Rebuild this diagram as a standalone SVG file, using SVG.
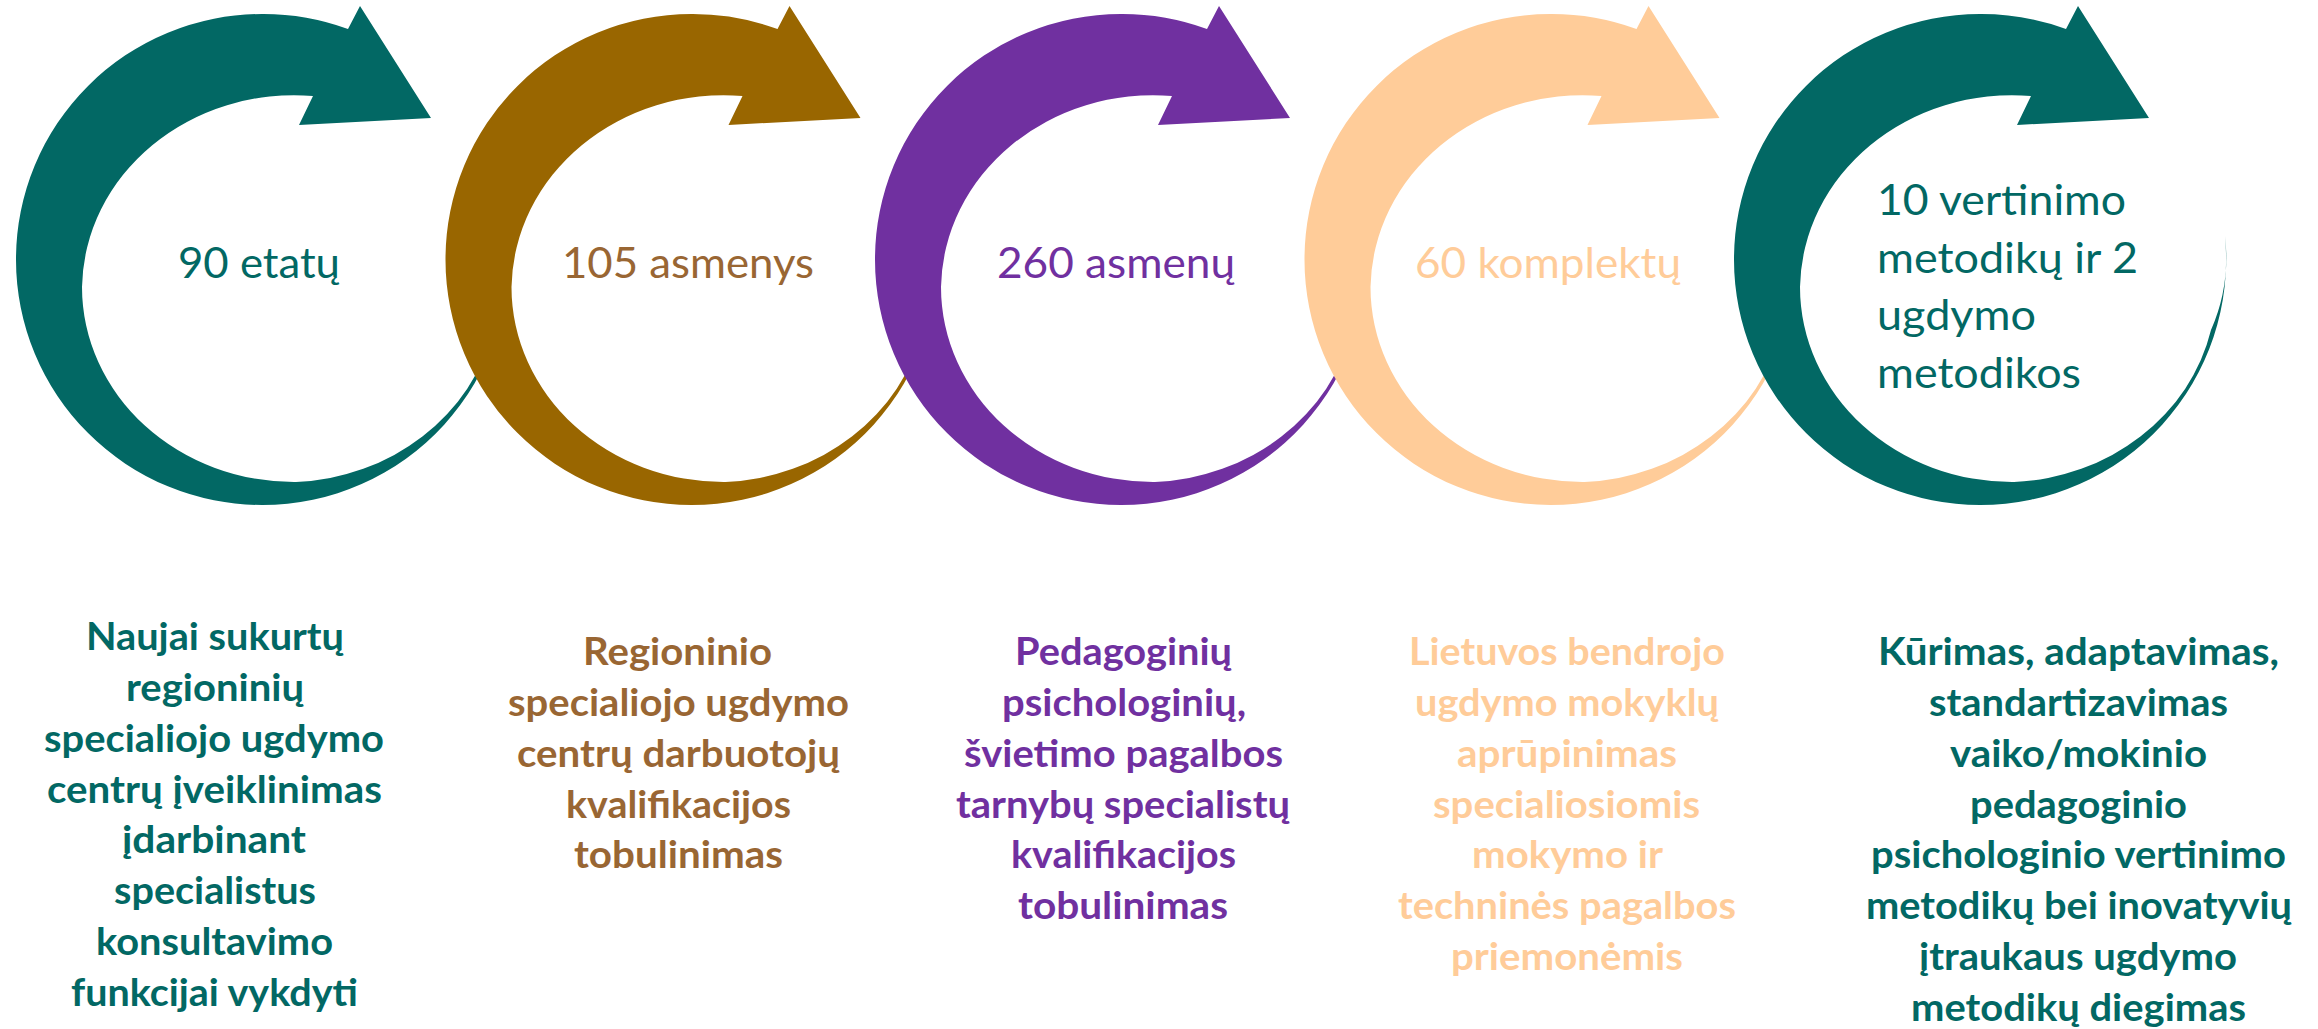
<svg xmlns="http://www.w3.org/2000/svg" xmlns:xlink="http://www.w3.org/1999/xlink" width="2318" height="1029" viewBox="0 0 2318 1029">
<style>
  text { font-family: Lato, "Open Sans", "DejaVu Sans", sans-serif; }
  .num { font-size: 42px; font-weight: 400; text-anchor: middle; }
  .numl { font-size: 42px; font-weight: 400; text-anchor: start; }
  .desc { font-size: 38px; font-weight: 700; text-anchor: middle; }
  .teal { fill: #026864; }
  .brownS { fill: #996600; }
  .brownT { fill: #996633; }
  .purple { fill: #7030A0; }
  .peach { fill: #FFCC99; }
</style>
<defs>
  <path id="circArrow" d="M 348 29 A 246 245.5 0 0 0 262 14 A 246 245.5 0 0 0 16 259.5 A 246 245.5 0 0 0 262 505 A 246 245.5 0 0 0 507 236 A 212 195 0 0 1 493 330 A 212 195 0 0 1 296 482 A 212 195 0 0 1 82 287 A 212 195 0 0 1 313 96 L 299 125 L 431 118 L 360 6 Z"/>
</defs>
<rect width="2318" height="1029" fill="#ffffff"/>
<g id="connectors"></g>

<g id="node1">
  <use xlink:href="#circArrow" href="#circArrow" class="teal"/>
  <text class="num teal" x="259" y="278" textLength="162" lengthAdjust="spacingAndGlyphs">90 etatų</text>
  <g class="desc teal">
    <text x="215" y="650" textLength="258" lengthAdjust="spacingAndGlyphs">Naujai sukurtų</text>
    <text x="215" y="701" textLength="178" lengthAdjust="spacingAndGlyphs">regioninių</text>
    <text x="214" y="752" textLength="340" lengthAdjust="spacingAndGlyphs">specialiojo ugdymo</text>
    <text x="214.5" y="803" textLength="335" lengthAdjust="spacingAndGlyphs">centrų įveiklinimas</text>
    <text x="214" y="853" textLength="184" lengthAdjust="spacingAndGlyphs">įdarbinant</text>
    <text x="215" y="904" textLength="202" lengthAdjust="spacingAndGlyphs">specialistus</text>
    <text x="214.5" y="955" textLength="237" lengthAdjust="spacingAndGlyphs">konsultavimo</text>
    <text x="214.5" y="1006" textLength="287" lengthAdjust="spacingAndGlyphs">funkcijai vykdyti</text>
  </g>
</g>

<g id="node2">
  <use xlink:href="#circArrow" href="#circArrow" class="brownS" transform="translate(429.5,0)"/>
  <text class="num brownT" x="688" y="278" textLength="252" lengthAdjust="spacingAndGlyphs">105 asmenys</text>
  <g class="desc brownT">
    <text x="677.5" y="665" textLength="189" lengthAdjust="spacingAndGlyphs">Regioninio</text>
    <text x="678.5" y="716" textLength="341" lengthAdjust="spacingAndGlyphs">specialiojo ugdymo</text>
    <text x="678.5" y="767" textLength="323" lengthAdjust="spacingAndGlyphs">centrų darbuotojų</text>
    <text x="678.5" y="818" textLength="225" lengthAdjust="spacingAndGlyphs">kvalifikacijos</text>
    <text x="678.5" y="868" textLength="209" lengthAdjust="spacingAndGlyphs">tobulinimas</text>
  </g>
</g>

<g id="node3">
  <use xlink:href="#circArrow" href="#circArrow" class="purple" transform="translate(859,0)"/>
  <text class="num purple" x="1116" y="278" textLength="238" lengthAdjust="spacingAndGlyphs">260 asmenų</text>
  <g class="desc purple">
    <text x="1123.5" y="665" textLength="217" lengthAdjust="spacingAndGlyphs">Pedagoginių</text>
    <text x="1124" y="716" textLength="244" lengthAdjust="spacingAndGlyphs">psichologinių,</text>
    <text x="1123.5" y="767" textLength="319" lengthAdjust="spacingAndGlyphs">švietimo pagalbos</text>
    <text x="1123" y="818" textLength="334" lengthAdjust="spacingAndGlyphs">tarnybų specialistų</text>
    <text x="1123.5" y="868" textLength="225" lengthAdjust="spacingAndGlyphs">kvalifikacijos</text>
    <text x="1123" y="919" textLength="210" lengthAdjust="spacingAndGlyphs">tobulinimas</text>
  </g>
</g>

<g id="node4">
  <use xlink:href="#circArrow" href="#circArrow" class="peach" transform="translate(1288.5,0)"/>
  <text class="num peach" x="1548" y="278" textLength="266" lengthAdjust="spacingAndGlyphs">60 komplektų</text>
  <g class="desc peach">
    <text x="1567" y="665" textLength="316" lengthAdjust="spacingAndGlyphs">Lietuvos bendrojo</text>
    <text x="1567" y="716" textLength="304" lengthAdjust="spacingAndGlyphs">ugdymo mokyklų</text>
    <text x="1567" y="767" textLength="220" lengthAdjust="spacingAndGlyphs">aprūpinimas</text>
    <text x="1566.5" y="818" textLength="267" lengthAdjust="spacingAndGlyphs">specialiosiomis</text>
    <text x="1567.5" y="868" textLength="191" lengthAdjust="spacingAndGlyphs">mokymo ir</text>
    <text x="1567" y="919" textLength="338" lengthAdjust="spacingAndGlyphs">techninės pagalbos</text>
    <text x="1567" y="970" textLength="232" lengthAdjust="spacingAndGlyphs">priemonėmis</text>
  </g>
</g>

<g id="node5">
  <use xlink:href="#circArrow" href="#circArrow" class="teal" transform="translate(1718,0)"/>
  <g class="numl teal">
    <text x="1877" y="215" textLength="249" lengthAdjust="spacingAndGlyphs">10 vertinimo</text>
    <text x="1877" y="273" textLength="261" lengthAdjust="spacingAndGlyphs">metodikų ir 2</text>
    <text x="1877" y="330" textLength="159" lengthAdjust="spacingAndGlyphs">ugdymo</text>
    <text x="1877" y="388" textLength="204" lengthAdjust="spacingAndGlyphs">metodikos</text>
  </g>
  <g class="desc teal">
    <text x="2078.5" y="665" textLength="401" lengthAdjust="spacingAndGlyphs">Kūrimas, adaptavimas,</text>
    <text x="2078.5" y="716" textLength="299" lengthAdjust="spacingAndGlyphs">standartizavimas</text>
    <text x="2078.5" y="767" textLength="257" lengthAdjust="spacingAndGlyphs">vaiko/mokinio</text>
    <text x="2078.5" y="818" textLength="217" lengthAdjust="spacingAndGlyphs">pedagoginio</text>
    <text x="2078.5" y="868" textLength="415" lengthAdjust="spacingAndGlyphs">psichologinio vertinimo</text>
    <text x="2079" y="919" textLength="426" lengthAdjust="spacingAndGlyphs">metodikų bei inovatyvių</text>
    <text x="2078" y="970" textLength="318" lengthAdjust="spacingAndGlyphs">įtraukaus ugdymo</text>
    <text x="2078.5" y="1021" textLength="335" lengthAdjust="spacingAndGlyphs">metodikų diegimas</text>
  </g>
</g>
</svg>
